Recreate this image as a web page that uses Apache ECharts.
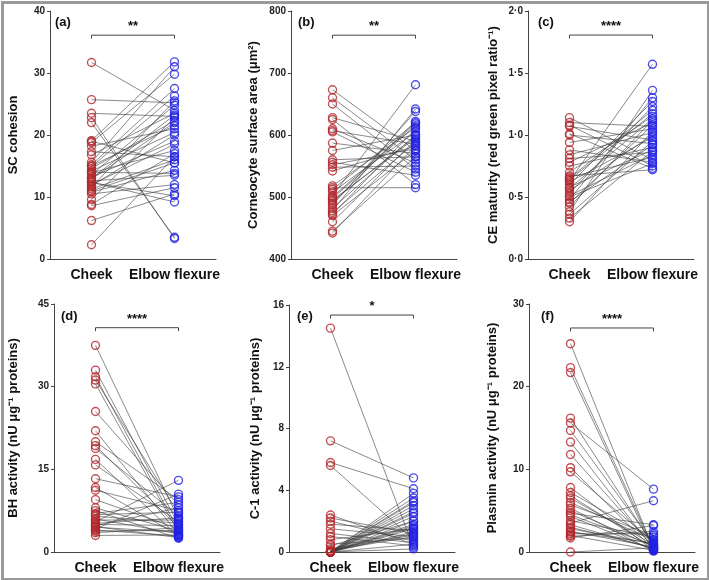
<!DOCTYPE html>
<html>
<head>
<meta charset="utf-8">
<script src="https://cdn.jsdelivr.net/npm/echarts@6/dist/echarts.min.js"></script>
<style>
  html, body { margin: 0; padding: 0; background: #fff; }
  #main { width: 709px; height: 580px; }
</style>
</head>
<body>
<div id="main"></div>
<script>
// categories on every x axis
var categories = ['Cheek', 'Elbow flexure'];

// (a) SC cohesion
var aCheek = [31.7, 25.7, 23.5, 22.8, 22.0, 19.1, 18.8, 18.2, 17.3, 16.8, 15.6, 15.2, 14.9, 14.6, 14.2, 13.9, 13.6, 13.2, 12.9, 12.6, 12.3, 12.0, 11.6, 11.3, 11.0, 10.8, 10.5, 9.6, 8.8, 8.6, 6.2, 2.3, 15.0, 13.0, 14.0, 12.4, 19.0, 11.8];
var aElbow = [24.0, 25.2, 23.0, 3.3, 3.5, 31.8, 29.8, 21.0, 16.5, 23.5, 31.0, 27.5, 26.3, 22.3, 20.4, 17.5, 24.8, 19.0, 22.0, 13.5, 10.2, 18.5, 25.5, 16.0, 15.5, 14.3, 12.0, 22.8, 17.0, 11.5, 10.5, 16.5, 21.5, 23.2, 13.8, 9.2, 15.5, 20.0];

// (b) corneocyte surface area
var bCheek = [673, 660, 650, 628, 625, 610, 607, 605, 587, 575, 560, 556, 552, 548, 542, 518, 512, 508, 502, 498, 495, 490, 487, 482, 478, 475, 472, 470, 460, 445, 442, 500, 493, 515];
var bElbow = [575, 560, 545, 590, 520, 555, 585, 540, 570, 600, 565, 535, 578, 550, 582, 612, 620, 605, 681, 615, 595, 622, 638, 600, 642, 588, 610, 575, 592, 565, 583, 618, 598, 515];

// (c) CE maturity
var cCheek = [1.14, 1.10, 1.08, 1.07, 1.01, 1.00, 0.94, 0.88, 0.84, 0.81, 0.78, 0.75, 0.70, 0.67, 0.65, 0.63, 0.62, 0.60, 0.58, 0.55, 0.53, 0.51, 0.48, 0.46, 0.45, 0.42, 0.38, 0.36, 0.33, 0.30, 0.64, 0.66, 0.57, 0.50];
var cElbow = [0.80, 1.07, 0.75, 0.96, 0.73, 0.93, 1.05, 0.78, 1.02, 0.86, 1.10, 0.90, 1.15, 0.72, 1.20, 1.57, 0.98, 1.27, 0.88, 1.00, 1.23, 0.84, 1.30, 0.92, 1.08, 1.12, 1.36, 0.95, 0.87, 1.03, 1.17, 0.82, 1.13, 0.77];

// (d) BH activity
var dCheek = [37.5, 33.0, 31.8, 31.2, 30.5, 25.5, 22.0, 20.0, 19.3, 18.8, 16.8, 15.8, 13.3, 11.7, 11.2, 9.5, 8.0, 7.5, 7.0, 6.5, 6.0, 5.5, 5.2, 5.0, 4.8, 4.5, 4.2, 4.0, 3.5, 3.0, 6.8, 5.8, 4.6, 3.8];
var dElbow = [6.0, 5.0, 4.0, 7.0, 3.5, 8.5, 3.2, 9.5, 4.5, 6.5, 2.8, 5.5, 10.0, 3.0, 7.5, 4.2, 3.8, 2.5, 9.0, 5.2, 3.3, 13.0, 6.2, 4.8, 8.0, 3.6, 10.5, 2.9, 4.4, 3.1, 7.2, 5.8, 2.6, 3.9];

// (e) C-1 activity
var eCheek = [14.5, 7.2, 5.8, 5.6, 2.4, 2.2, 2.0, 1.8, 1.5, 1.2, 1.0, 0.8, 0.5, 0.4, 0.2, 0.1, 0.05, 0, 0, 0, 0, 0, 0, 0, 0, 0, 0, 0, 0, 0, 0, 0, 0, 0];
var eElbow = [0.3, 4.8, 4.1, 0.8, 0.5, 1.2, 0.7, 1.4, 1.0, 0.6, 0.4, 1.5, 0.9, 2.0, 1.1, 1.0, 3.5, 3.3, 3.0, 2.8, 2.5, 2.3, 2.0, 1.8, 1.6, 1.5, 1.3, 1.2, 3.8, 0.2, 2.6, 1.7, 0.5, 3.2];

// (f) Plasmin activity
var fCheek = [25.2, 22.3, 21.7, 16.2, 15.6, 14.7, 13.3, 11.8, 10.2, 9.7, 7.8, 7.2, 6.8, 6.5, 5.7, 5.3, 5.0, 4.7, 4.3, 3.8, 3.5, 3.3, 2.8, 2.5, 2.2, 2.0, 1.7, 0.0, 6.0, 4.5, 3.0, 2.4, 1.9];
var fElbow = [0.3, 0.5, 0.2, 0.8, 7.6, 1.0, 0.4, 0.6, 0.3, 1.2, 0.2, 1.5, 0.5, 0.9, 2.0, 0.1, 0.7, 3.3, 0.3, 1.8, 6.2, 0.4, 1.0, 0.6, 2.2, 0.2, 3.2, 0.5, 1.4, 0.8, 0.5, 1.1, 2.5];

var yNames = ['SC cohesion', 'Corneocyte surface area (\u03bcm\u00b2)', 'CE maturity (red green pixel ratio\u207b\u00b9)',
              'BH activity (nU \u03bcg\u207b\u00b9 proteins)', 'C-1 activity (nU \u03bcg\u207b\u00b9 proteins)', 'Plasmin activity (nU \u03bcg\u207b\u00b9 proteins)'];
var letters = ['(a)', '(b)', '(c)', '(d)', '(e)', '(f)'];
var stars = ['**', '**', '****', '****', '*', '****'];
var bracketAt = [36.1, 761, 1.806, 40.7, 15.35, 27.1];
var yMin = [0, 400, 0, 0, 0, 0];
var yMax = [40, 800, 2, 45, 16, 30];
var yStep = [10, 100, 0.5, 15, 4, 10];

var cheeks = [aCheek, bCheek, cCheek, dCheek, eCheek, fCheek];
var elbows = [aElbow, bElbow, cElbow, dElbow, eElbow, fElbow];

// layout
var grids = [
  {left: 50, top: 11, width: 166, height: 248},
  {left: 291, top: 11, width: 166, height: 248},
  {left: 528, top: 11, width: 166, height: 248},
  {left: 54, top: 304, width: 166, height: 248},
  {left: 289, top: 305, width: 166, height: 247},
  {left: 529, top: 304, width: 166, height: 248}
];
var nameGaps = [30, 31, 28, 34, 27, 30];
var letterPos = [[55, 16], [298, 16], [538, 16], [61, 310], [297, 310], [541, 310]];

var FONT = '"Liberation Sans", Arial, sans-serif';
var RED = '#b3262b';
var BLUE = '#2222e6';

var chart = echarts.init(document.getElementById('main'));

var xAxes = [], yAxes = [], series = [], graphics = [];

for (var i = 0; i < 6; i++) {
    xAxes.push({
        gridIndex: i,
        type: 'category',
        data: categories,
        axisLine: {lineStyle: {color: '#444', width: 1}},
        axisTick: {alignWithLabel: true, length: 4, lineStyle: {color: '#444'}},
        axisLabel: {color: '#111', fontSize: 14, fontWeight: 'bold', fontFamily: FONT, margin: 9, interval: 0}
    });
    yAxes.push({
        gridIndex: i,
        type: 'value',
        min: yMin[i],
        max: yMax[i],
        interval: yStep[i],
        name: yNames[i],
        nameLocation: 'middle',
        nameGap: nameGaps[i],
        nameTextStyle: {color: '#111', fontSize: 13, fontWeight: 'bold', fontFamily: FONT},
        axisLine: {show: true, lineStyle: {color: '#444', width: 1}},
        axisTick: {show: true, length: 3, lineStyle: {color: '#444'}},
        splitLine: {show: false},
        axisLabel: {
            color: '#222', fontSize: 10, fontWeight: 'bold', fontFamily: FONT, margin: 5,
            formatter: i == 2 ? function (v) { return v.toFixed(1).replace('.', '\u00b7'); } : null
        }
    });

    // paired lines
    var c = cheeks[i], e = elbows[i];
    for (var j = 0; j < c.length; j++) {
        series.push({
            type: 'line', xAxisIndex: i, yAxisIndex: i,
            data: [c[j], e[j]],
            symbol: 'none', silent: true, z: 2,
            lineStyle: {color: '#3a3a3a', width: 0.6}
        });
    }
    // points
    series.push({
        type: 'scatter', xAxisIndex: i, yAxisIndex: i, z: 3, silent: true,
        data: c.map(function (v) { return [0, v]; }),
        symbol: 'circle', symbolSize: 8,
        itemStyle: {color: 'rgba(255,255,255,0)', borderColor: RED, borderWidth: 1.4}
    });
    series.push({
        type: 'scatter', xAxisIndex: i, yAxisIndex: i, z: 3, silent: true,
        data: e.map(function (v) { return [1, v]; }),
        symbol: 'circle', symbolSize: 8,
        itemStyle: {color: 'rgba(255,255,255,0)', borderColor: BLUE, borderWidth: 1.4}
    });
    // significance bracket
    var t = (yMax[i] - yMin[i]) * 0.014;
    series.push({
        type: 'line', xAxisIndex: i, yAxisIndex: i, silent: true, z: 2,
        data: [[0, bracketAt[i] - t], [0, bracketAt[i]], [1, bracketAt[i]], [1, bracketAt[i] - t]],
        symbol: 'none',
        lineStyle: {color: '#444', width: 1}
    });

    graphics.push({
        type: 'text', left: letterPos[i][0], top: letterPos[i][1],
        style: {text: letters[i], font: 'bold 13px ' + FONT, fill: '#111'}
    });
}

graphics.push({
    type: 'rect', left: 0, top: 0, silent: true, z: 100,
    shape: {x: 1.5, y: 1.5, width: 706, height: 577},
    style: {fill: 'none', stroke: '#9a9a9a', lineWidth: 3}
});

chart.setOption({
    animation: false,
    backgroundColor: '#fff',
    grid: grids,
    xAxis: xAxes,
    yAxis: yAxes,
    series: series,
    graphic: graphics
});

// stars centred above each bracket
var starGraphics = [];
for (var k = 0; k < 6; k++) {
    var p0 = chart.convertToPixel({gridIndex: k}, [0, bracketAt[k]]);
    var p1 = chart.convertToPixel({gridIndex: k}, [1, bracketAt[k]]);
    starGraphics.push({
        type: 'text', x: (p0[0] + p1[0]) / 2, y: p0[1] - 2,
        style: {text: stars[k], font: 'bold 13px ' + FONT, fill: '#111', align: 'center', verticalAlign: 'bottom'}
    });
}
chart.setOption({graphic: graphics.concat(starGraphics)});
</script>
</body>
</html>
